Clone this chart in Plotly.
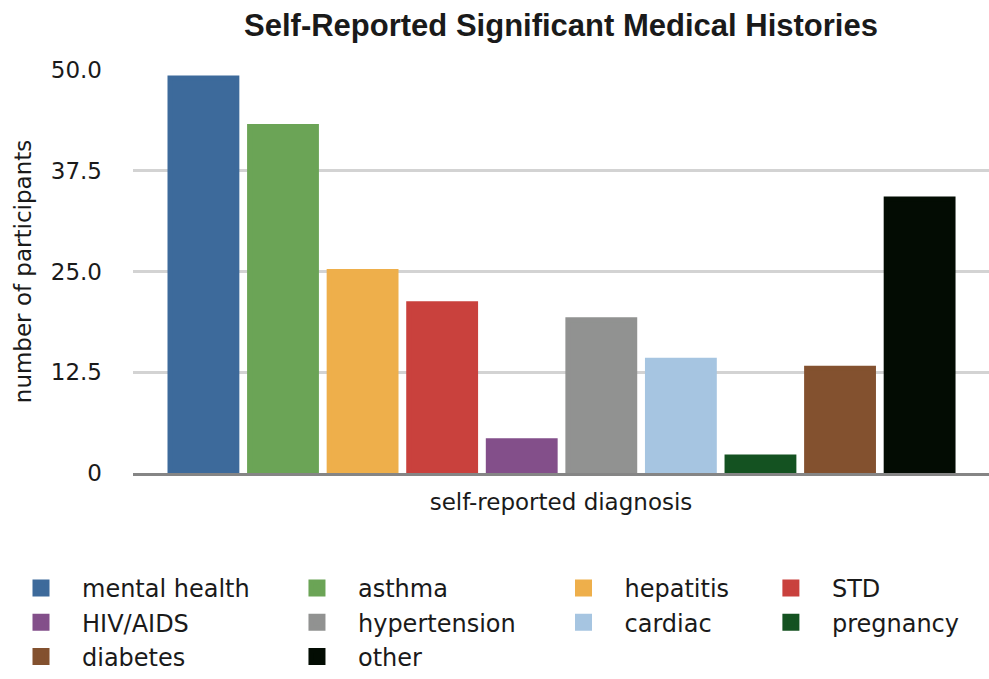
import plotly.graph_objects as go

# data
categories = ["mental health", "asthma", "hepatitis", "STD", "HIV/AIDS",
              "hypertension", "cardiac", "pregnancy", "diabetes", "other"]
participants = [49, 43, 25, 21, 4, 19, 14, 2, 13, 34]
y_ticks = [0, 12.5, 25, 37.5, 50]
y_tick_labels = ["0", "12.5", "25.0", "37.5", "50.0"]

# styling
bar_colors = ["#3d6a9b", "#6ba456", "#eeaf4b", "#c9413d", "#834f8a",
              "#919291", "#a6c5e1", "#145221", "#83512f", "#030c03"]
text_color = "#1a1a1a"
legend_ids = ["legend", "legend2", "legend3", "legend4"]
legend_cols = [-0.1552, 0.1680, 0.4790, 0.7210]

fig = go.Figure()
for i, (name, val) in enumerate(zip(categories, participants)):
    fig.add_trace(go.Bar(
        x=[name],
        y=[val],
        name=name,
        width=0.84,
        marker=dict(color=bar_colors[i], line=dict(color=bar_colors[i], width=5)),
        legend=legend_ids[i % 4],
    ))

legend_style = dict(
    orientation="v",
    xanchor="left",
    yanchor="top",
    y=-0.2308,
    itemwidth=72,
    tracegroupgap=0,
    bgcolor="rgba(0,0,0,0)",
    font=dict(family="DejaVu Sans", size=24, color=text_color),
)

fig.update_layout(
    width=989,
    height=679,
    margin=dict(l=132, r=0, t=70, b=206),
    paper_bgcolor="white",
    plot_bgcolor="white",
    barmode="overlay",
    font=dict(family="DejaVu Sans", size=23, color=text_color),
    title=dict(
        text="<b>Self-Reported Significant Medical Histories</b>",
        font=dict(family="Liberation Sans", size=31, color=text_color),
        x=0.5, xref="paper", xanchor="center",
        y=1 - 25 / 679, yref="container", yanchor="middle",
    ),
    xaxis=dict(
        type="category",
        categoryorder="array",
        categoryarray=categories,
        range=[-0.885, 9.872],
        showticklabels=False,
        showgrid=False,
        zeroline=False,
        ticks="",
        showline=True,
        linecolor="#858585",
        linewidth=3,
        layer="above traces",
        title=dict(text="self-reported diagnosis", standoff=19,
                   font=dict(size=23)),
    ),
    yaxis=dict(
        range=[0, 50],
        tickvals=y_ticks,
        ticktext=y_tick_labels,
        tickfont=dict(size=23),
        ticks="",
        ticklabelstandoff=30,
        showgrid=True,
        gridcolor="#d3d3d3",
        gridwidth=2.5,
        zeroline=False,
        showline=False,
        title=dict(text="number of participants", standoff=12,
                   font=dict(size=23)),
    ),
    showlegend=True,
)

for lid, xpos in zip(legend_ids, legend_cols):
    fig.update_layout({lid: dict(x=xpos, **legend_style)})

# drop the default 8px page margin so the figure sits at the window corner
fig.write_html(
    "out.html",
    config={"displayModeBar": False},
    post_script="document.body.style.margin = '0';",
)
